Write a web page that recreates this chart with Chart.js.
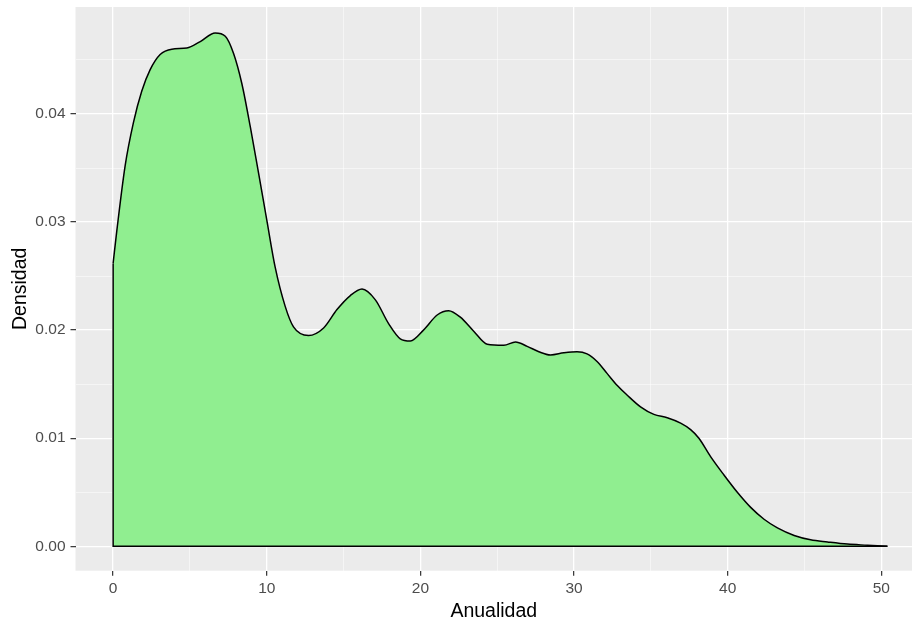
<!DOCTYPE html>
<html lang="es">
<head>
  <meta charset="UTF-8">
  <title>Densidad de Anualidad</title>
  <script src="https://cdn.jsdelivr.net/npm/chart.js"></script>
  <style>
    body {
      margin: 0;
      padding: 0;
      background: #ffffff;
    }

    .chart-box {
      position: relative;
      width: 912px;
      height: 619px;
    }
  </style>
</head>
<body>
  <div class="chart-box">
    <canvas id="densityChart"></canvas>
  </div>

  <script>
    // curve (x = Anualidad, y = Densidad)
    const anualidad = [0, 0.24, 0.78, 1.32, 1.86, 2.41, 3.06, 3.82, 4.8, 5.67, 6.64, 7.3, 7.84, 8.38, 8.93,
      9.47, 10.0, 10.55, 11.2, 11.74, 12.72, 13.7, 14.57, 15.44, 16.2, 17.07, 17.93, 18.69, 19.35, 20.2,
      21.09, 21.84, 22.6, 23.47, 24.35, 25.43, 26.19, 26.95, 27.71, 28.47, 29.34, 30.2, 30.85, 31.5,
      32.15, 32.8, 33.45, 34.33, 35.2, 36.07, 36.94, 37.59, 38.13, 38.89, 39.76, 40.63, 41.5, 42.37,
      43.24, 44.33, 45.4, 46.5, 47.8, 49.1, 50.4];
    const densidad = [0.0262, 0.0292, 0.0352, 0.0392, 0.0421, 0.0441, 0.0455, 0.0460, 0.0461, 0.0467,
      0.0475, 0.0472, 0.0456, 0.0428, 0.0388, 0.0345, 0.0302, 0.0258, 0.0222, 0.0203, 0.0195, 0.0202,
      0.0219, 0.0232, 0.0238, 0.0228, 0.0206, 0.0192, 0.0190, 0.0200, 0.0214, 0.0218, 0.0212, 0.0199,
      0.0187, 0.0186, 0.0189, 0.0185, 0.0180, 0.0177, 0.0179, 0.0180, 0.0178, 0.0171, 0.0160, 0.0149,
      0.0140, 0.0129, 0.0122, 0.0119, 0.0114, 0.0108, 0.0100, 0.0083, 0.0066, 0.0050, 0.0036, 0.0025,
      0.0017, 0.0010, 0.0006, 0.0004, 0.0002, 0.0001, 0.0];

    const xMajor = [0, 10, 20, 30, 40, 50];
    const xMinor = [5, 15, 25, 35, 45];
    const xLabels = ['0', '10', '20', '30', '40', '50'];
    const yMajor = [0, 0.01, 0.02, 0.03, 0.04];
    const yMinor = [0.005, 0.015, 0.025, 0.035, 0.045];
    const yLabels = ['0.00', '0.01', '0.02', '0.03', '0.04'];

    const curve = anualidad.map((x, i) => ({ x: x, y: densidad[i] }));
    const last = anualidad.length - 1;
    const edge = [
      { x: anualidad[0], y: densidad[0] },
      { x: anualidad[0], y: 0 },
      { x: anualidad[last], y: 0 }
    ];

    function allTicks(major, minor) {
      return major.concat(minor).sort((a, b) => a - b).map(v => ({ value: v }));
    }

    function gridOpts(major) {
      return {
        color: ctx => major.includes(ctx.tick.value) ? '#ffffff' : 'rgba(255,255,255,0.7)',
        lineWidth: ctx => major.includes(ctx.tick.value) ? 1.3 : 0.7,
        tickColor: ctx => major.includes(ctx.tick.value) ? '#333333' : 'rgba(0,0,0,0)',
        tickWidth: 1.2,
        tickLength: 5,
        drawTicks: true
      };
    }

    const panelBg = {
      id: 'panelBg',
      beforeDraw(chart) {
        const a = chart.chartArea;
        const ctx = chart.ctx;
        ctx.save();
        ctx.fillStyle = '#ebebeb';
        ctx.fillRect(a.left, a.top, a.right - a.left, a.bottom - a.top);
        ctx.restore();
      }
    };

    const fontFamily = "'Liberation Sans', Arial, sans-serif";

    new Chart(document.getElementById('densityChart'), {
      type: 'line',
      data: {
        datasets: [
          {
            data: curve,
            order: 1,
            borderColor: '#000000',
            borderWidth: 1.5,
            backgroundColor: '#90ee90',
            fill: 'origin',
            pointRadius: 0,
            cubicInterpolationMode: 'monotone'
          },
          {
            data: edge,
            order: 0,
            borderColor: '#000000',
            borderWidth: 1.5,
            fill: false,
            pointRadius: 0,
            tension: 0
          }
        ]
      },
      options: {
        responsive: true,
        maintainAspectRatio: false,
        animation: false,
        layout: { padding: { top: 7, right: 0, bottom: 0, left: 0 } },
        plugins: {
          legend: { display: false },
          tooltip: { enabled: false }
        },
        scales: {
          x: {
            type: 'linear',
            min: -2.45,
            max: 52.0,
            afterBuildTicks: s => { s.ticks = allTicks(xMajor, xMinor); },
            afterFit: s => {
              s.height = 48.3;
              s.paddingLeft = 0;
              s.paddingRight = 0;
            },
            border: { display: false },
            grid: gridOpts(xMajor),
            ticks: {
              autoSkip: false,
              maxRotation: 0,
              padding: 4,
              color: '#4d4d4d',
              font: { family: fontFamily, size: 15.5 },
              callback: v => xMajor.includes(v) ? xLabels[xMajor.indexOf(v)] : ''
            },
            title: {
              display: true,
              text: 'Anualidad',
              color: '#000000',
              font: { family: fontFamily, size: 19.5, lineHeight: 1 },
              padding: { top: 0, bottom: -2 }
            }
          },
          y: {
            type: 'linear',
            min: -0.00226,
            max: 0.0499,
            afterBuildTicks: s => { s.ticks = allTicks(yMajor, yMinor); },
            afterFit: s => {
              s.width = 75.5;
              s.paddingTop = 0;
              s.paddingBottom = 0;
            },
            border: { display: false },
            grid: gridOpts(yMajor),
            ticks: {
              autoSkip: false,
              padding: 5,
              color: '#4d4d4d',
              font: { family: fontFamily, size: 15.5 },
              callback: v => yMajor.includes(v) ? yLabels[yMajor.indexOf(v)] : ''
            },
            title: {
              display: true,
              text: 'Densidad',
              color: '#000000',
              font: { family: fontFamily, size: 19.5, lineHeight: 1 },
              padding: { top: 11, bottom: 0 }
            }
          }
        }
      },
      plugins: [panelBg]
    });
  </script>
</body>
</html>
